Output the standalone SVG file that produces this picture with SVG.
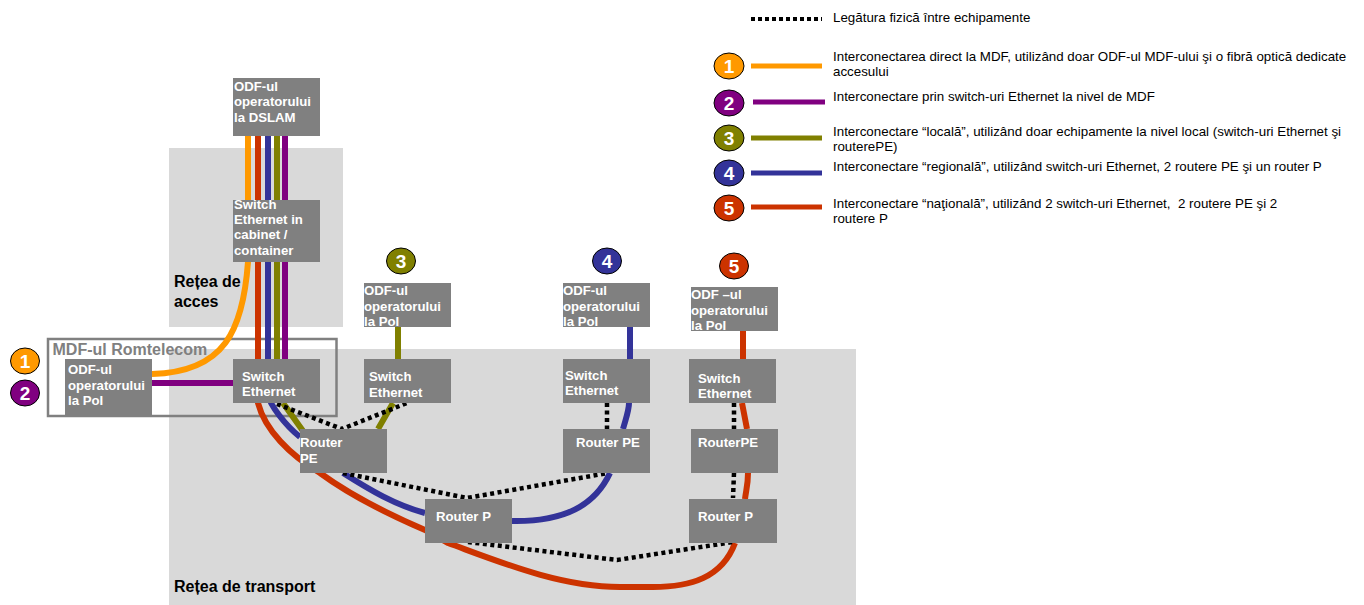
<svg xmlns="http://www.w3.org/2000/svg" width="1364" height="605" viewBox="0 0 1364 605">
<style>
text{font-family:"Liberation Sans",Arial,sans-serif}
.box{fill:#808080}
.bt{fill:#fff;font-weight:bold;font-size:13.2px}
.zone{fill:#D9D9D9}
.zt{fill:#000;font-weight:bold;font-size:16px}
.lt{fill:#000;font-size:13.35px}
.c{fill:none;stroke-width:6}
.l{fill:none;stroke-width:5}
.o{stroke:#FF9900}.p{stroke:#800080}.g{stroke:#808000}.b{stroke:#333399}.r{stroke:#CC3300}
.d{fill:none;stroke:#000;stroke-width:4.5;stroke-dasharray:4 3.5}
.n{stroke:#000;stroke-width:1}
.nt{fill:#fff;font-weight:bold;font-size:19px;text-anchor:middle}
</style>
<rect class="zone" x="169" y="148" width="174" height="179"/>
<rect class="zone" x="169" y="349" width="687" height="256"/>
<g id="frame-mdf">
<rect x="48" y="339" width="288.500" height="77" fill="none" stroke="#808080" stroke-width="2.500"/>
<text x="52.500" y="355" fill="#808080" font-weight="bold" font-size="16px">MDF-ul Romtelecom</text>
</g>
<text class="zt" x="174" y="287">Rețea de</text>
<text class="zt" x="174" y="307">acces</text>
<text class="zt" x="174" y="592">Rețea de transport</text>
<g id="connectors">
<path class="c o" d="M248,136V262C243,330 225,372 152,374"/>
<path class="c r" d="M258,136V403C265,430 290,455 320,473C350,495 390,515 425,530L448,543C500,562 560,587 620,587H653C690,587 722,578 735,543"/>
<path class="c b" d="M268,136V395C270,405 285,425 300,437M343,473C370,490 395,505 425,513"/>
<path class="c g" d="M277,136V359M283,403L303,431"/>
<path class="c p" d="M285,136V359"/>
<path class="c p" d="M152,383H233"/>
<path class="c g" d="M398,327V359M393,403L378,429"/>
<path class="c b" d="M512,521C565,522 595,505 610,473M623,429C627,415 629,410 629,403M630,327V359"/>
<path class="c r" d="M743,331V359M742,403L747,429M748,473C748,485 746,490 745,499"/>
<path class="d" d="M277,404L342,429L407,403"/>
<path class="d" d="M343,473L467,498L608,473"/>
<path class="d" d="M607,403V429"/>
<path class="d" d="M734,403V429"/>
<path class="d" d="M734,473L733,498"/>
<path class="d" d="M468,542L617,560L733,542"/>
</g>
<g id="odf-dslam"><rect class="box" x="233" y="78" width="87" height="58"/><text class="bt" x="234" y="91">ODF-ul</text><text class="bt" x="234" y="106">operatorului</text><text class="bt" x="234" y="122">la DSLAM</text></g>
<g id="switch-cabinet"><rect class="box" x="233" y="200" width="87" height="62"/><text class="bt" x="234" y="209">Switch</text><text class="bt" x="234" y="224">Ethernet in</text><text class="bt" x="234" y="239">cabinet /</text><text class="bt" x="234" y="255">container</text></g>
<g id="odf-mdf"><rect class="box" x="65" y="359" width="87" height="58"/><text class="bt" x="68" y="374">ODF-ul</text><text class="bt" x="68" y="390">operatorului</text><text class="bt" x="68" y="405">la PoI</text></g>
<g id="switch-mdf"><rect class="box" x="233" y="359" width="87" height="44"/><text class="bt" x="242" y="381">Switch</text><text class="bt" x="242" y="396">Ethernet</text></g>
<g id="odf-3"><rect class="box" x="364" y="283" width="87" height="44"/><text class="bt" x="364" y="295">ODF-ul</text><text class="bt" x="364" y="311">operatorului</text><text class="bt" x="364" y="326">la PoI</text></g>
<g id="switch-3"><rect class="box" x="364" y="359" width="87" height="44"/><text class="bt" x="369" y="381">Switch</text><text class="bt" x="369" y="397">Ethernet</text></g>
<g id="router-pe-3"><rect class="box" x="300" y="429" width="87" height="44"/><text class="bt" x="300" y="447">Router</text><text class="bt" x="300" y="463">PE</text></g>
<g id="router-p-4"><rect class="box" x="425" y="499" width="87" height="44"/><text class="bt" x="436" y="521">Router P</text></g>
<g id="odf-4"><rect class="box" x="563" y="283" width="87" height="44"/><text class="bt" x="563" y="295">ODF-ul</text><text class="bt" x="563" y="311">operatorului</text><text class="bt" x="563" y="326">la PoI</text></g>
<g id="switch-4"><rect class="box" x="563" y="359" width="87" height="44"/><text class="bt" x="565" y="380">Switch</text><text class="bt" x="565" y="395">Ethernet</text></g>
<g id="router-pe-4"><rect class="box" x="563" y="429" width="87" height="44"/><text class="bt" x="576" y="447">Router PE</text></g>
<g id="odf-5"><rect class="box" x="691" y="287" width="87" height="44"/><text class="bt" x="691" y="299">ODF –ul</text><text class="bt" x="691" y="315">operatorului</text><text class="bt" x="691" y="330">la PoI</text></g>
<g id="switch-5"><rect class="box" x="689" y="359" width="87" height="44"/><text class="bt" x="698" y="383">Switch</text><text class="bt" x="698" y="398">Ethernet</text></g>
<g id="router-pe-5"><rect class="box" x="691" y="429" width="87" height="44"/><text class="bt" x="698" y="447">RouterPE</text></g>
<g id="router-p-5"><rect class="box" x="689" y="499" width="88" height="44"/><text class="bt" x="698" y="521">Router P</text></g>
<g id="badge-1"><ellipse class="n" fill="#FF9900" cx="25" cy="361" rx="14.500" ry="13"/><text class="nt" x="25" y="368">1</text></g>
<g id="badge-2"><ellipse class="n" fill="#800080" cx="25" cy="393" rx="14.500" ry="13"/><text class="nt" x="25" y="400">2</text></g>
<g id="badge-3"><ellipse class="n" fill="#808000" cx="401" cy="261" rx="14.500" ry="13"/><text class="nt" x="401" y="268">3</text></g>
<g id="badge-4"><ellipse class="n" fill="#333399" cx="607" cy="261" rx="14.500" ry="13"/><text class="nt" x="607" y="268">4</text></g>
<g id="badge-5"><ellipse class="n" fill="#CC3300" cx="734" cy="266" rx="14.500" ry="13"/><text class="nt" x="734" y="273">5</text></g>
<g id="legend">
<path d="M751,19H822" fill="none" stroke="#000" stroke-width="4" stroke-dasharray="4 3"/>
<text class="lt" x="833" y="22">Legătura fizică între echipamente</text>
<ellipse class="n" fill="#FF9900" cx="729" cy="66" rx="15" ry="13"/><text class="nt" x="729" y="73">1</text>
<path class="l o" d="M751,66H822"/>
<text class="lt" x="833" y="61">Interconectarea direct la MDF, utilizând doar ODF-ul MDF-ului şi o fibră optică dedicate</text>
<text class="lt" x="833" y="76">accesului</text>
<ellipse class="n" fill="#800080" cx="729" cy="103" rx="15" ry="13"/><text class="nt" x="729" y="110">2</text>
<path class="l p" d="M753,102H825"/>
<text class="lt" x="833" y="101">Interconectare prin switch-uri Ethernet la nivel de MDF</text>
<ellipse class="n" fill="#808000" cx="729" cy="138" rx="15" ry="13"/><text class="nt" x="729" y="145">3</text>
<path class="l g" d="M751,138H822"/>
<text class="lt" x="833" y="136">Interconectare “locală”, utilizând doar echipamente la nivel local (switch-uri Ethernet şi</text>
<text class="lt" x="833" y="151">routerePE)</text>
<ellipse class="n" fill="#333399" cx="729" cy="173" rx="15" ry="13"/><text class="nt" x="729" y="180">4</text>
<path class="l b" d="M751,173H822"/>
<text class="lt" x="833" y="171">Interconectare “regională”, utilizând switch-uri Ethernet, 2 routere PE şi un router P</text>
<ellipse class="n" fill="#CC3300" cx="729" cy="208" rx="15" ry="13"/><text class="nt" x="729" y="215">5</text>
<path class="l r" d="M751,207H822"/>
<text class="lt" x="833" y="208" xml:space="preserve">Interconectare “naţională”, utilizând 2 switch-uri Ethernet,  2 routere PE şi 2</text>
<text class="lt" x="833" y="223">routere P</text>
</g>
</svg>
